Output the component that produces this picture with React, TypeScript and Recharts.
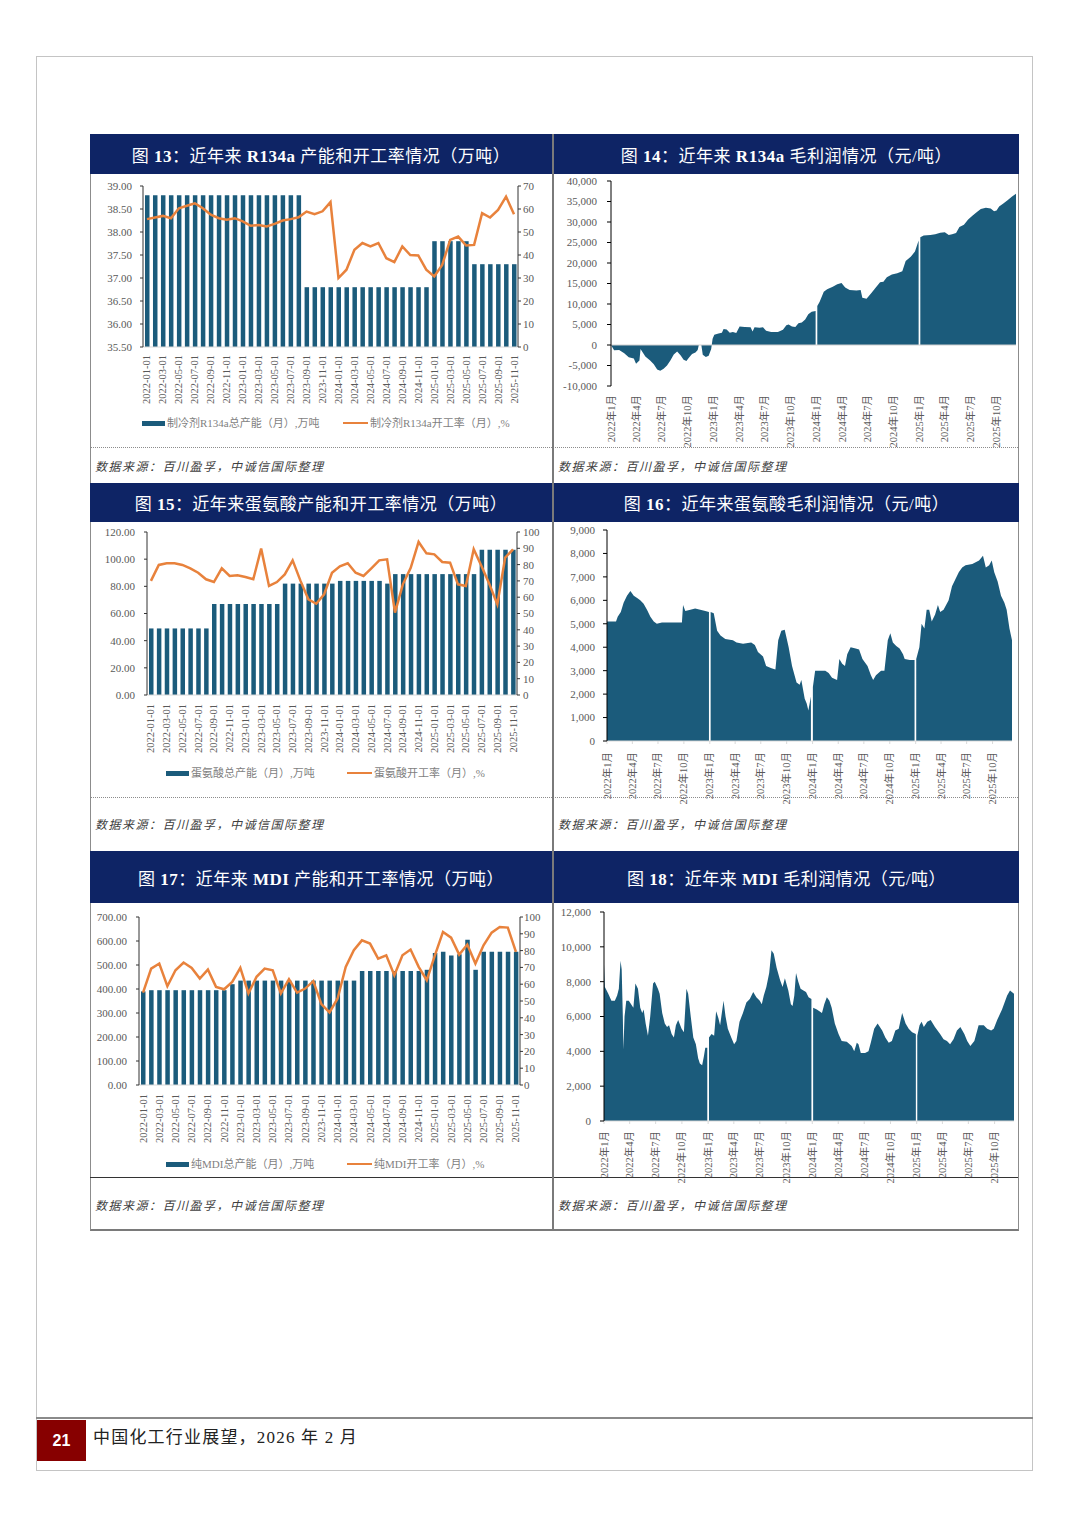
import {
  Area,
  AreaChart,
  Bar,
  ComposedChart,
  Line,
  ReferenceLine,
  XAxis,
  YAxis,
} from "recharts";

const SERIF = '"Liberation Serif", "Times New Roman", "Noto Sans CJK SC", serif';
const NAVY = "#0e2465";
const TEAL = "#1b5b7b";
const ORANGE = "#e8823c";
const TICK = "#595959";
const AXIS = "#333333";

// monthly categories for the capacity / operating-rate charts
const months = [
  "2022-01-01", "2022-02-01", "2022-03-01", "2022-04-01", "2022-05-01", "2022-06-01",
  "2022-07-01", "2022-08-01", "2022-09-01", "2022-10-01", "2022-11-01", "2022-12-01",
  "2023-01-01", "2023-02-01", "2023-03-01", "2023-04-01", "2023-05-01", "2023-06-01",
  "2023-07-01", "2023-08-01", "2023-09-01", "2023-10-01", "2023-11-01", "2023-12-01",
  "2024-01-01", "2024-02-01", "2024-03-01", "2024-04-01", "2024-05-01", "2024-06-01",
  "2024-07-01", "2024-08-01", "2024-09-01", "2024-10-01", "2024-11-01", "2024-12-01",
  "2025-01-01", "2025-02-01", "2025-03-01", "2025-04-01", "2025-05-01", "2025-06-01",
  "2025-07-01", "2025-08-01", "2025-09-01", "2025-10-01", "2025-11-01",
];

// quarterly ticks for the daily margin charts
const quarterTicks = [
  "2022-01-01", "2022-04-01", "2022-07-01", "2022-10-01",
  "2023-01-01", "2023-04-01", "2023-07-01", "2023-10-01",
  "2024-01-01", "2024-04-01", "2024-07-01", "2024-10-01",
  "2025-01-01", "2025-04-01", "2025-07-01", "2025-10-01",
];

// 图13 R134a
const r134aCapacity = [
  38.8, 38.8, 38.8, 38.8, 38.8, 38.8, 38.8, 38.8, 38.8, 38.8,
  38.8, 38.8, 38.8, 38.8, 38.8, 38.8, 38.8, 38.8, 38.8, 38.8,
  36.8, 36.8, 36.8, 36.8, 36.8, 36.8, 36.8, 36.8, 36.8, 36.8,
  36.8, 36.8, 36.8, 36.8, 36.8, 36.8,
  37.8, 37.8, 37.8, 37.8, 37.8,
  37.3, 37.3, 37.3, 37.3, 37.3, 37.3,
];
const r134aRate = [
  55.6, 56.3, 57, 56, 60.3, 61.4, 62.5, 60.3, 57.5, 56,
  55.3, 56, 54.6, 52.7, 53, 52.4, 53.5, 55, 55.6, 56.4,
  58.9, 57.7, 59, 63, 30, 33.6, 42.3, 45.2, 43.7, 45.2,
  38.6, 36.9, 43.7, 40, 39.8, 33.6, 30.7, 35.7, 46.6, 48,
  44.1, 44.4, 58.2, 56.3, 59.6, 65.4, 57.7,
];
const r134aLeftTicks = [35.5, 36, 36.5, 37, 37.5, 38, 38.5, 39];
const r134aRightTicks = [0, 10, 20, 30, 40, 50, 60, 70];

// 图15 蛋氨酸
const metCapacity = [
  49, 49, 49, 49, 49, 49, 49, 49,
  67, 67, 67, 67, 67, 67, 67, 67, 67,
  82, 82, 82, 82, 82, 82, 82,
  84, 84, 84, 84, 84, 84,
  82,
  89, 89, 89, 89, 89, 89, 89, 89, 89, 89, 89,
  107, 107, 107, 107, 107,
];
const metRate = [
  70, 79.8, 80.8, 80.8, 79.8, 77.7, 75, 71, 69.3, 77.7,
  73, 73.4, 72.4, 71, 89.8, 66.9, 69.3, 74, 82.6, 70,
  58.7, 56, 61.8, 75, 79, 80.8, 75, 73, 77.7, 82.6,
  83.2, 50.5, 67.9, 78, 93.9, 86.9, 86.3, 81.6, 81.2, 67.9,
  66.9, 89.4, 79, 67.9, 55.6, 84.3, 89.4,
];
const metLeftTicks = [0, 20, 40, 60, 80, 100, 120];
const pctTicks = [0, 10, 20, 30, 40, 50, 60, 70, 80, 90, 100];

// 图17 MDI
const mdiCapacity = [
  390, 395, 395, 395, 395, 395, 395, 395, 395, 395, 395,
  420,
  435, 435, 435, 435, 435, 435, 435, 435, 435, 435, 435, 435, 435, 435, 435,
  475, 475, 475, 475, 475, 475, 475, 475,
  480, 550, 555, 540, 545, 605, 480,
  555, 555, 555, 555, 555,
];
const mdiRate = [
  55, 69.3, 72.3, 58.8, 68.3, 72.9, 69.7, 63.4, 68.7, 58.4,
  57, 61.4, 69.7, 54.5, 64.4, 69.3, 68.3, 54.5, 63, 55,
  57.4, 61.8, 48.1, 43.2, 51.5, 70.3, 80.2, 86.1, 84.2, 75.2,
  77.2, 65.3, 77.2, 80.6, 70.3, 62.4, 77.2, 91.1, 87.7, 77.6,
  83.6, 72.3, 83.2, 90.7, 94, 93.7, 79.2,
];
const mdiLeftTicks = [0, 100, 200, 300, 400, 500, 600, 700];

// 图14 R134a 毛利润 (元/吨), null = missing day
const r134aProfit: [string, number | null][] = [
  ["2022-01-01", 0], ["2022-01-12", -1300], ["2022-01-30", -1200], ["2022-02-17", -2000],
  ["2022-03-05", -3000], ["2022-03-23", -3300], ["2022-03-31", -4600], ["2022-04-12", -3800],
  ["2022-04-16", -1000], ["2022-04-21", -1500], ["2022-05-03", -2800], ["2022-05-20", -3800],
  ["2022-06-02", -4700], ["2022-06-14", -6000], ["2022-06-25", -6300], ["2022-07-07", -5800],
  ["2022-07-19", -5000], ["2022-07-31", -3800], ["2022-08-12", -2300], ["2022-08-24", -1600],
  ["2022-09-05", -2500], ["2022-09-16", -3600], ["2022-09-26", -3900], ["2022-10-04", -3200],
  ["2022-10-16", -2200], ["2022-10-28", -1800], ["2022-11-05", -1200], ["2022-11-09", 0],
  ["2022-11-18", 0], ["2022-11-23", -2400], ["2022-12-04", -2900], ["2022-12-14", -2600],
  ["2022-12-23", -1000], ["2022-12-28", 1500], ["2023-01-03", 2500], ["2023-01-18", 2800],
  ["2023-01-30", 3000], ["2023-02-05", 3900], ["2023-02-16", 3800], ["2023-02-27", 3000],
  ["2023-03-10", 3200], ["2023-03-22", 2900], ["2023-04-03", 4500], ["2023-04-21", 4400],
  ["2023-05-12", 4300], ["2023-05-19", 3300], ["2023-05-26", 4300], ["2023-06-13", 4200],
  ["2023-06-25", 4300], ["2023-07-06", 3500], ["2023-07-24", 3200], ["2023-08-17", 3200],
  ["2023-09-04", 3700], ["2023-09-16", 4800], ["2023-09-24", 5000], ["2023-10-06", 4500],
  ["2023-10-18", 4400], ["2023-10-29", 5300], ["2023-11-10", 5500], ["2023-11-22", 6200],
  ["2023-12-03", 7500], ["2023-12-15", 8100], ["2023-12-29", 8300], ["2024-01-01", null],
  ["2024-01-04", 9500], ["2024-01-12", 10500], ["2024-01-27", 13000], ["2024-02-08", 13600],
  ["2024-02-28", 14200], ["2024-03-15", 14800], ["2024-03-30", 15100], ["2024-04-12", 14000],
  ["2024-04-28", 13400], ["2024-05-22", 13300], ["2024-06-06", 13400], ["2024-06-12", 11500],
  ["2024-06-27", 11300], ["2024-07-12", 12500], ["2024-07-27", 13800], ["2024-08-14", 15300],
  ["2024-08-26", 15400], ["2024-09-07", 16500], ["2024-09-25", 17200], ["2024-10-14", 17500],
  ["2024-11-01", 18000], ["2024-11-13", 20500], ["2024-12-01", 21500], ["2024-12-16", 22800],
  ["2024-12-29", 25500], ["2025-01-01", null], ["2025-01-04", 26300], ["2025-01-16", 26700],
  ["2025-02-09", 26800], ["2025-02-26", 27000], ["2025-03-16", 27400], ["2025-04-01", 27500],
  ["2025-04-15", 26800], ["2025-04-27", 27000], ["2025-05-11", 27300], ["2025-05-23", 28800],
  ["2025-06-08", 29300], ["2025-06-23", 30600], ["2025-07-08", 31500], ["2025-07-22", 32300],
  ["2025-08-07", 33200], ["2025-08-25", 33500], ["2025-09-11", 33300], ["2025-09-23", 32600],
  ["2025-10-02", 32800], ["2025-10-11", 33800], ["2025-10-26", 34500], ["2025-11-10", 35300],
  ["2025-11-26", 36200], ["2025-12-10", 36900],
];
const r134aProfitTicks = [-10000, -5000, 0, 5000, 10000, 15000, 20000, 25000, 30000, 35000, 40000];

// 图16 蛋氨酸毛利润
const metProfit: [string, number | null][] = [
  ["2022-01-01", 5100], ["2022-02-02", 5100], ["2022-02-08", 5300], ["2022-02-19", 5500],
  ["2022-03-01", 5900], ["2022-03-13", 6200], ["2022-03-25", 6400], ["2022-04-06", 6200],
  ["2022-04-18", 6100], ["2022-04-29", 6000], ["2022-05-11", 5850], ["2022-05-23", 5600],
  ["2022-06-04", 5300], ["2022-06-16", 5100], ["2022-06-27", 5000], ["2022-07-15", 5050],
  ["2022-08-20", 5050], ["2022-09-24", 5050], ["2022-09-28", 5800], ["2022-10-06", 5550],
  ["2022-10-24", 5600], ["2022-11-10", 5650], ["2022-11-28", 5600], ["2022-12-16", 5550],
  ["2022-12-29", 5500], ["2023-01-01", null], ["2023-01-04", 5500], ["2023-01-15", 5450],
  ["2023-01-27", 4700], ["2023-02-08", 4500], ["2023-02-25", 4350], ["2023-03-24", 4300],
  ["2023-04-06", 4200], ["2023-04-29", 4150], ["2023-05-28", 4200], ["2023-06-10", 4100],
  ["2023-06-21", 3800], ["2023-07-09", 3600], ["2023-07-20", 3200], ["2023-08-08", 3100],
  ["2023-08-22", 3050], ["2023-09-01", 4300], ["2023-09-12", 4700], ["2023-09-24", 4750],
  ["2023-10-08", 4000], ["2023-10-20", 3200], ["2023-11-05", 2500], ["2023-11-16", 2400],
  ["2023-11-22", 2600], ["2023-12-04", 1800], ["2023-12-11", 1600], ["2023-12-17", 1300],
  ["2023-12-26", 1900], ["2023-12-29", null], ["2024-01-02", 2300], ["2024-01-10", 3000],
  ["2024-01-22", 3000], ["2024-02-15", 3000], ["2024-02-27", 2900], ["2024-03-10", 2700],
  ["2024-03-28", 2600], ["2024-04-05", 3500], ["2024-04-15", 3300], ["2024-04-25", 3200],
  ["2024-05-03", 3700], ["2024-05-15", 4000], ["2024-06-02", 3950], ["2024-06-14", 3900],
  ["2024-06-26", 3500], ["2024-07-14", 3200], ["2024-07-26", 2800], ["2024-08-03", 2600],
  ["2024-08-13", 2800], ["2024-08-31", 3000], ["2024-09-12", 3000], ["2024-09-24", 4300],
  ["2024-10-03", 4600], ["2024-10-12", 4200], ["2024-10-24", 4050], ["2024-11-05", 3950],
  ["2024-11-17", 3700], ["2024-11-23", 3500], ["2024-12-11", 3450], ["2024-12-28", 3450],
  ["2024-12-31", null], ["2025-01-03", 3500], ["2025-01-14", 4000], ["2025-01-22", 5000],
  ["2025-02-01", 4800], ["2025-02-09", 5600], ["2025-02-18", 5600], ["2025-02-27", 5100],
  ["2025-03-11", 5400], ["2025-03-21", 5800], ["2025-03-29", 5500], ["2025-04-10", 5600],
  ["2025-04-28", 6000], ["2025-05-10", 6600], ["2025-05-22", 6900], ["2025-06-03", 7200],
  ["2025-06-15", 7400], ["2025-06-27", 7500], ["2025-07-21", 7550], ["2025-08-14", 7700],
  ["2025-08-28", 7900], ["2025-09-07", 7400], ["2025-09-19", 7500], ["2025-09-28", 7700],
  ["2025-10-07", 7200], ["2025-10-19", 6800], ["2025-10-31", 6200], ["2025-11-12", 5900],
  ["2025-11-20", 5600], ["2025-11-30", 4800], ["2025-12-09", 4300],
];
const metProfitTicks = [0, 1000, 2000, 3000, 4000, 5000, 6000, 7000, 8000, 9000];

// 图18 MDI 毛利润
const mdiProfit: [string, number | null][] = [
  ["2022-01-01", 9000], ["2022-01-04", 7700], ["2022-01-16", 7300], ["2022-01-27", 6900],
  ["2022-02-08", 6900], ["2022-02-16", 7200], ["2022-02-22", 7600], ["2022-02-28", 9200],
  ["2022-03-04", 8700], ["2022-03-08", 6000], ["2022-03-10", 4100], ["2022-03-14", 6000],
  ["2022-03-20", 6900], ["2022-03-29", 6900], ["2022-04-06", 6700], ["2022-04-14", 6500],
  ["2022-04-21", 7900], ["2022-04-30", 7600], ["2022-05-08", 6500], ["2022-05-15", 6200],
  ["2022-05-20", 6400], ["2022-05-27", 5600], ["2022-06-04", 4900], ["2022-06-12", 6000],
  ["2022-06-22", 7900], ["2022-06-28", 8000], ["2022-07-09", 7600], ["2022-07-15", 7300],
  ["2022-07-24", 6200], ["2022-08-02", 5600], ["2022-08-10", 5400], ["2022-08-17", 5500],
  ["2022-08-26", 5000], ["2022-09-03", 4800], ["2022-09-10", 5500], ["2022-09-18", 5800],
  ["2022-09-30", 5300], ["2022-10-08", 5100], ["2022-10-17", 7600], ["2022-10-23", 7300],
  ["2022-11-01", 6000], ["2022-11-10", 4800], ["2022-11-19", 4400], ["2022-11-27", 3600],
  ["2022-12-03", 3300], ["2022-12-11", 3200], ["2022-12-17", 3700], ["2022-12-22", 4200],
  ["2022-12-29", 4200], ["2023-01-01", null], ["2023-01-04", 4800], ["2023-01-13", 5000],
  ["2023-01-22", 4900], ["2023-01-29", 6300], ["2023-02-06", 5900], ["2023-02-12", 5500],
  ["2023-02-24", 6900], ["2023-03-03", 6000], ["2023-03-11", 5300], ["2023-03-23", 4800],
  ["2023-04-02", 4400], ["2023-04-10", 4600], ["2023-04-21", 5700], ["2023-05-03", 6200],
  ["2023-05-15", 6800], ["2023-05-27", 7000], ["2023-06-08", 7400], ["2023-06-19", 7100],
  ["2023-07-01", 6900], ["2023-07-08", 6700], ["2023-07-15", 7200], ["2023-07-24", 7700],
  ["2023-08-03", 8500], ["2023-08-11", 9800], ["2023-08-19", 9600], ["2023-08-29", 8800],
  ["2023-09-10", 8100], ["2023-09-19", 7700], ["2023-09-27", 8200], ["2023-10-09", 7500],
  ["2023-10-18", 6700], ["2023-10-24", 6600], ["2023-10-30", 7200], ["2023-11-05", 8500],
  ["2023-11-13", 8000], ["2023-11-21", 7600], ["2023-12-01", 7500], ["2023-12-10", 7400],
  ["2023-12-19", 7100], ["2023-12-29", 7000], ["2024-01-01", null], ["2024-01-04", 6500],
  ["2024-01-17", 6400], ["2024-02-04", 6200], ["2024-02-12", 6700], ["2024-02-21", 7100],
  ["2024-03-01", 6900], ["2024-03-09", 6500], ["2024-03-20", 5600], ["2024-04-02", 5000],
  ["2024-04-13", 4600], ["2024-05-01", 4550], ["2024-05-18", 4300], ["2024-05-27", 4000],
  ["2024-06-05", 4500], ["2024-06-11", 4400], ["2024-06-19", 3900], ["2024-07-04", 3900],
  ["2024-07-16", 4000], ["2024-07-24", 4500], ["2024-08-05", 5300], ["2024-08-17", 5600],
  ["2024-09-02", 5200], ["2024-09-13", 4800], ["2024-09-25", 4500], ["2024-10-06", 4600],
  ["2024-10-18", 5200], ["2024-10-30", 5300], ["2024-11-11", 6200], ["2024-11-23", 5600],
  ["2024-12-04", 5300], ["2024-12-16", 5100], ["2024-12-29", 5000], ["2025-01-01", null],
  ["2025-01-03", 4900], ["2025-01-11", 5500], ["2025-01-18", 5700], ["2025-01-26", 5400],
  ["2025-02-07", 5700], ["2025-02-19", 5800], ["2025-03-06", 5400], ["2025-03-24", 5000],
  ["2025-04-05", 4700], ["2025-04-17", 4600], ["2025-04-28", 4400], ["2025-05-10", 4700],
  ["2025-05-22", 5200], ["2025-06-03", 5400], ["2025-06-17", 5000], ["2025-06-27", 4600],
  ["2025-07-08", 4300], ["2025-07-22", 4600], ["2025-08-06", 5500], ["2025-08-24", 5500],
  ["2025-09-05", 5300], ["2025-09-19", 5200], ["2025-09-28", 5300], ["2025-10-10", 5800],
  ["2025-10-27", 6400], ["2025-11-14", 7200], ["2025-11-24", 7500], ["2025-12-08", 7300],
];
const mdiProfitTicks = [0, 2000, 4000, 6000, 8000, 10000, 12000];

const toDay = (d: string) =>
  Date.UTC(+d.slice(0, 4), +d.slice(5, 7) - 1, +d.slice(8, 10)) / 86400000;
const ymLabel = (v: number) => {
  const d = new Date(v * 86400000);
  return `${d.getUTCFullYear()}年${d.getUTCMonth() + 1}月`;
};
const comma = (v: number) => v.toLocaleString("en-US");
const fixed2 = (v: number) => v.toFixed(2);

const tickStyle = { fill: TICK, fontSize: 11, fontFamily: SERIF };

function RotTick({ x, y, payload, gap, fmt }: any) {
  const ty = y + gap;
  return (
    <text
      x={x}
      y={ty}
      transform={`rotate(-90 ${x} ${ty})`}
      textAnchor="end"
      dominantBaseline="central"
      fontSize={10.5}
      fill={TICK}
      fontFamily={SERIF}
    >
      {fmt(payload.value)}
    </text>
  );
}

function ComboPanel(p: any) {
  const data = months.map((m, i) => ({ m, cap: p.bars[i], rate: p.rate[i] }));
  const lt = p.leftTicks;
  return (
    <div style={{ position: "absolute", left: p.left, top: p.top }}>
      <ComposedChart
        width={463}
        height={p.height}
        data={data}
        margin={{ top: p.marginTop, right: 0, bottom: 0, left: 0 }}
      >
        <XAxis
          dataKey="m"
          interval={1}
          height={62}
          tickSize={0}
          tickLine={false}
          axisLine={{ stroke: "#d9d9d9" }}
          tick={(t: any) => <RotTick {...t} gap={p.gap} fmt={(v: string) => v} />}
        />
        <YAxis
          yAxisId="l"
          width={p.leftW}
          domain={[lt[0], lt[lt.length - 1]]}
          ticks={lt}
          interval={0}
          tickFormatter={fixed2}
          tickSize={3}
          tickMargin={p.leftGap}
          axisLine={{ stroke: AXIS }}
          tickLine={{ stroke: AXIS }}
          tick={tickStyle}
        />
        <YAxis
          yAxisId="r"
          orientation="right"
          width={p.rightW}
          domain={[0, p.rightTicks[p.rightTicks.length - 1]]}
          ticks={p.rightTicks}
          interval={0}
          tickSize={3}
          tickMargin={p.rightGap}
          axisLine={{ stroke: AXIS }}
          tickLine={{ stroke: AXIS }}
          tick={tickStyle}
        />
        <Bar yAxisId="l" dataKey="cap" fill={TEAL} barSize={4.5} isAnimationActive={false} />
        <Line
          yAxisId="r"
          dataKey="rate"
          type="linear"
          stroke={ORANGE}
          strokeWidth={2.5}
          dot={false}
          isAnimationActive={false}
        />
      </ComposedChart>
    </div>
  );
}

function AreaPanel(p: any) {
  const data = p.series.map(([d, v]: [string, number | null]) => ({ t: toDay(d), v }));
  const yt = p.yTicks;
  return (
    <div style={{ position: "absolute", left: p.left, top: p.top }}>
      <AreaChart
        width={465}
        height={p.plotBottom + 72}
        data={data}
        margin={{ top: p.marginTop, right: p.marginRight, bottom: 0, left: 0 }}
      >
        <XAxis
          type="number"
          dataKey="t"
          domain={["dataMin", "dataMax"]}
          ticks={quarterTicks.map(toDay)}
          interval={0}
          height={72}
          tickSize={p.xTickSize}
          axisLine={p.xAxisLine ? { stroke: "#d9d9d9" } : false}
          tickLine={p.xAxisLine ? { stroke: "#d9d9d9" } : false}
          tick={(t: any) => <RotTick {...t} gap={p.gap} fmt={ymLabel} />}
        />
        <YAxis
          width={p.yW}
          domain={[yt[0], yt[yt.length - 1]]}
          ticks={yt}
          interval={0}
          tickFormatter={comma}
          tickSize={4}
          tickMargin={p.yGap}
          axisLine={{ stroke: "#000" }}
          tickLine={{ stroke: "#000" }}
          tick={tickStyle}
        />
        <Area
          dataKey="v"
          type="linear"
          fill={TEAL}
          fillOpacity={1}
          stroke="none"
          connectNulls={false}
          isAnimationActive={false}
        />
        {p.zeroLine && <ReferenceLine y={0} stroke="#d0d0d0" strokeWidth={1} />}
      </AreaChart>
    </div>
  );
}

function Title({ text }: { text: string }) {
  const parts = text.split(/([A-Za-z0-9]+)/);
  return (
    <span style={{ whiteSpace: "pre" }}>
      {parts.map((s, i) =>
        /^[A-Za-z0-9]+$/.test(s) ? (
          <b key={i} style={{ fontFamily: '"Liberation Serif", serif' }}>{s}</b>
        ) : (
          <span key={i}>{s}</span>
        )
      )}
    </span>
  );
}

function Header({ left, top, width, height, text }: any) {
  return (
    <div
      style={{
        position: "absolute",
        left,
        top,
        width,
        height,
        background: NAVY,
        color: "#fff",
        display: "flex",
        alignItems: "center",
        justifyContent: "center",
        fontFamily: SERIF,
        fontSize: 17,
        letterSpacing: 0.5,
        whiteSpace: "nowrap",
      }}
    >
      <Title text={text} />
    </div>
  );
}

function Source({ left, top }: any) {
  return (
    <div
      style={{
        position: "absolute",
        left,
        top,
        fontFamily: SERIF,
        fontSize: 12,
        letterSpacing: 1.5,
        fontStyle: "italic",
        color: "#404040",
        lineHeight: "16px",
        whiteSpace: "nowrap",
      }}
    >
      数据来源：百川盈孚，中诚信国际整理
    </div>
  );
}

function ComboLegend({ top, barX, barText, lineX, lineText }: any) {
  const txt = {
    position: "absolute" as const,
    top: top - 8,
    fontFamily: SERIF,
    fontSize: 11,
    color: "#7f7f7f",
    lineHeight: "16px",
    whiteSpace: "nowrap" as const,
  };
  return (
    <>
      <div style={{ position: "absolute", left: barX, top: top - 2.5, width: 23, height: 5, background: TEAL }} />
      <div style={{ ...txt, left: barX + 25 }}>{barText}</div>
      <div style={{ position: "absolute", left: lineX, top: top - 1.25, width: 25, height: 2.5, background: ORANGE }} />
      <div style={{ ...txt, left: lineX + 27 }}>{lineText}</div>
    </>
  );
}

const hline = (top: number, style: string, color: string, w = 1) => (
  <div
    style={{
      position: "absolute",
      left: 90,
      top,
      width: 928,
      height: 0,
      borderTop: `${w}px ${style} ${color}`,
    }}
  />
);

export default function App() {
  return (
    <div
      style={{
        position: "absolute",
        left: 0,
        top: 0,
        width: 1080,
        height: 1528,
        background: "#fff",
        overflow: "hidden",
      }}
    >
      {/* page frame */}
      <div
        style={{
          position: "absolute",
          left: 36,
          top: 56,
          width: 997,
          height: 1415,
          border: "1.5px solid #c4c4c4",
          boxSizing: "border-box",
        }}
      />

      {/* chart grid */}
      <div
        style={{
          position: "absolute",
          left: 90,
          top: 134,
          width: 929,
          height: 1097,
          borderLeft: "1px solid #8c8c8c",
          borderRight: "1px solid #8c8c8c",
          borderBottom: "2px solid #7a7a7a",
          boxSizing: "border-box",
        }}
      />

      <Header left={90} top={134} width={462} height={40} text="图 13：近年来 R134a 产能和开工率情况（万吨）" />
      <Header left={554} top={134} width={465} height={40} text="图 14：近年来 R134a 毛利润情况（元/吨）" />
      <Header left={90} top={483} width={462} height={39} text="图 15：近年来蛋氨酸产能和开工率情况（万吨）" />
      <Header left={554} top={483} width={465} height={39} text="图 16：近年来蛋氨酸毛利润情况（元/吨）" />
      <Header left={90} top={851} width={462} height={52} text="图 17：近年来 MDI 产能和开工率情况（万吨）" />
      <Header left={554} top={851} width={465} height={52} text="图 18：近年来 MDI 毛利润情况（元/吨）" />

      <ComboPanel
        left={90}
        top={175}
        height={234}
        marginTop={11}
        leftW={53}
        rightW={35}
        leftGap={8}
        rightGap={2}
        gap={6}
        bars={r134aCapacity}
        rate={r134aRate}
        leftTicks={r134aLeftTicks}
        rightTicks={r134aRightTicks}
      />
      <ComboLegend
        top={423}
        barX={142}
        barText="制冷剂R134a总产能（月）,万吨"
        lineX={343}
        lineText="制冷剂R134a开工率（月）,%"
      />

      <AreaPanel
        left={553}
        top={175}
        plotBottom={211}
        marginTop={6}
        marginRight={2}
        yW={58}
        yGap={10}
        gap={7}
        xTickSize={0}
        xAxisLine={false}
        zeroLine
        series={r134aProfit}
        yTicks={r134aProfitTicks}
      />

      <ComboPanel
        left={90}
        top={523}
        height={234}
        marginTop={9}
        leftW={57}
        rightW={36}
        leftGap={9}
        rightGap={3}
        gap={7}
        bars={metCapacity}
        rate={metRate}
        leftTicks={metLeftTicks}
        rightTicks={pctTicks}
      />
      <ComboLegend
        top={773}
        barX={166}
        barText="蛋氨酸总产能（月）,万吨"
        lineX={347}
        lineText="蛋氨酸开工率（月）,%"
      />

      <AreaPanel
        left={553}
        top={523}
        plotBottom={218}
        marginTop={7}
        marginRight={6}
        yW={54}
        yGap={8}
        gap={6}
        xTickSize={3}
        xAxisLine
        series={metProfit}
        yTicks={metProfitTicks}
      />

      <ComboPanel
        left={90}
        top={905}
        height={242}
        marginTop={12}
        leftW={49}
        rightW={33}
        leftGap={9}
        rightGap={1}
        gap={7}
        bars={mdiCapacity}
        rate={mdiRate}
        leftTicks={mdiLeftTicks}
        rightTicks={pctTicks}
      />
      <ComboLegend
        top={1164}
        barX={166}
        barText="纯MDI总产能（月）,万吨"
        lineX={347}
        lineText="纯MDI开工率（月）,%"
      />

      <AreaPanel
        left={553}
        top={905}
        plotBottom={216}
        marginTop={7}
        marginRight={4}
        yW={51}
        yGap={9}
        gap={5}
        xTickSize={3}
        xAxisLine
        series={mdiProfit}
        yTicks={mdiProfitTicks}
      />

      {/* separators and source lines drawn over the chart bodies */}
      {hline(447, "dotted", "#8c8c8c")}
      {hline(797, "dotted", "#8c8c8c")}
      {hline(1177, "solid", "#333", 1.5)}

      <div style={{ position: "absolute", left: 552, top: 134, width: 2, height: 1096, background: "#7a7a7a" }} />

      <Source left={95} top={459} />
      <Source left={558} top={459} />
      <Source left={95} top={817} />
      <Source left={558} top={817} />
      <Source left={95} top={1198} />
      <Source left={558} top={1198} />

      {/* footer */}
      <div style={{ position: "absolute", left: 36, top: 1417, width: 997, height: 2, background: "#8a8a8a" }} />
      <div
        style={{
          position: "absolute",
          left: 37,
          top: 1420,
          width: 49,
          height: 41,
          background: "#870000",
          color: "#fff",
          fontFamily: '"Liberation Sans", Arial, sans-serif',
          fontWeight: "bold",
          fontSize: 16,
          display: "flex",
          alignItems: "center",
          justifyContent: "center",
        }}
      >
        21
      </div>
      <div
        style={{
          position: "absolute",
          left: 93,
          top: 1427,
          fontFamily: SERIF,
          fontSize: 17,
          letterSpacing: 1.2,
          color: "#222",
          lineHeight: "22px",
          whiteSpace: "nowrap",
        }}
      >
        中国化工行业展望，2026 年 2 月
      </div>
    </div>
  );
}
